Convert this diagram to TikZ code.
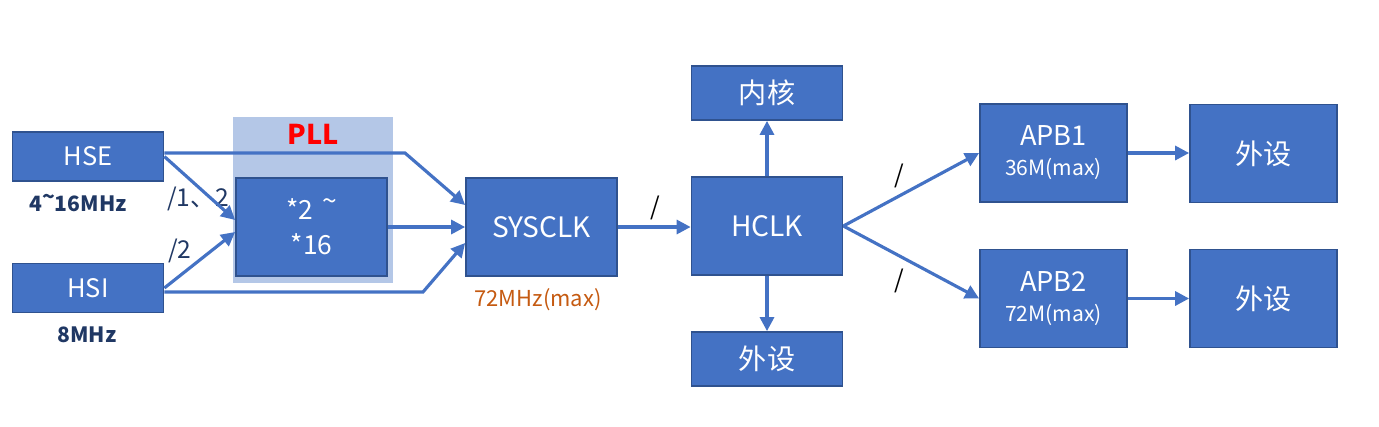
\documentclass[tikz,border=0pt]{standalone}
\usepackage{fontspec}
\setmainfont{Noto Sans CJK SC}
\usepackage{xcolor}
\usepackage{tikz}
\usetikzlibrary{shapes, arrows.meta, positioning}

\definecolor{boxblue}{HTML}{4472C4}
\definecolor{boxedge}{HTML}{2F528F}
\definecolor{pllbg}{HTML}{B4C7E7}
\definecolor{navy}{HTML}{203864}
\definecolor{clkorange}{HTML}{C55A11}

\begin{document}
\begin{tikzpicture}
  [
    x=0.02cm, y=-0.02cm,
    Block/.style={rectangle, draw=boxedge, fill=boxblue, line width=1pt, text=white, minimum width=3.02cm, minimum height=0.98cm, font=\fontsize{14.5}{17}\selectfont},
    Tall/.style={Block, minimum height=1.96cm, font=\fontsize{16}{19}\selectfont},
    Note/.style={text=navy, font=\bfseries\fontsize{12}{14}\selectfont},
    Slash/.style={text=black, font=\fontsize{14}{16}\selectfont},
    Link/.style={draw=boxblue, line width=1.8pt, -{Triangle[length=2.8mm, width=2.8mm]}}
  ]
  \useasboundingbox (0,0) rectangle (1379,426);

  % Nodes
  \node[rectangle, fill=pllbg, minimum width=3.2cm, minimum height=3.32cm] (pllbg) at(313, 200) {};
  \node[text=red, font=\bfseries\fontsize{15.5}{18}\selectfont] (plllabel) at(313, 134) {PLL};

  \node[Block] (hse) at(88, 156.5) {HSE};
  \node[Block] (hsi) at(88, 288) {HSI};
  \node[Tall, align=center, font=\fontsize{15}{20}\selectfont] (pll) at(311.5, 227) {*2\,\,\raisebox{0.35em}{\textasciitilde}\\*16};
  \node[Tall] (sysclk) at(541.5, 227) {SYSCLK};
  \node[Tall] (hclk) at(767, 226) {HCLK};
  \node[Block, minimum height=1.08cm, font=\fontsize{16}{19}\selectfont] (core) at(767, 93) {内核};
  \node[Block, minimum height=1.08cm, font=\fontsize{16}{19}\selectfont] (ahbdev) at(767, 359) {外设};
  \node[Tall, minimum width=2.94cm, align=center, font=\fontsize{15.5}{19}\selectfont] (apb1) at(1053.5, 153) {APB1\\[-2pt]{\fontsize{12}{14}\selectfont 36M(max)}};
  \node[Tall, minimum width=2.94cm, align=center, font=\fontsize{15.5}{19}\selectfont] (apb2) at(1053.5, 298.5) {APB2\\[-2pt]{\fontsize{12}{14}\selectfont 72M(max)}};
  \node[Tall, minimum width=2.94cm, font=\fontsize{16}{19}\selectfont] (apb1dev) at(1263.5, 153.5) {外设};
  \node[Tall, minimum width=2.94cm, font=\fontsize{16}{19}\selectfont] (apb2dev) at(1263.5, 298.5) {外设};

  \node[Note] (hsefreq) at(78, 203) {4\raisebox{0.3em}{\textasciitilde}16MHz};
  \node[Note] (hsifreq) at(87, 335) {8MHz};
  \node[Note, font=\fontsize{14}{16}\selectfont] (hsediv) at(198, 199) {/1、2};
  \node[Note, font=\fontsize{14}{16}\selectfont] (hsidiv) at(180, 251) {/2};
  \node[text=clkorange, font=\fontsize{12.5}{15}\selectfont] (sysfreq) at(538, 300) {72MHz(max)};

  \node[Slash] (ahbdiv) at(655, 208) {/};
  \node[Slash] (apb1div) at(899, 176) {/};
  \node[Slash] (apb2div) at(899, 281) {/};

  \coordinate (hsebend) at(405, 153);
  \coordinate (hsibend) at(423, 292);

  % Lines
  \path [Link] (hse.east |- hsebend) -- (hsebend) -- ([yshift=0.44cm]sysclk.west);
  \path [Link] (hse.east) -- ([yshift=0.14cm]pll.west);
  \path [Link] (hsi.east) -- ([yshift=-0.1cm]pll.west);
  \path [Link] (pll.east) -- (sysclk.west);
  \path [Link] (hsi.east |- hsibend) -- (hsibend) -- ([yshift=-0.32cm]sysclk.west);
  \path [Link] (sysclk.east) -- (sysclk.east -| hclk.west);
  \path [Link] (hclk.north) -- (core.south);
  \path [Link] (hclk.south) -- (ahbdev.north);
  \path [Link] (hclk.east) -- (apb1.west);
  \path [Link] (hclk.east) -- (apb2.west);
  \path [Link] (apb1.east) -- (apb1.east -| apb1dev.west);
  \path [Link] (apb2.east) -- (apb2.east -| apb2dev.west);

\end{tikzpicture}
\end{document}
